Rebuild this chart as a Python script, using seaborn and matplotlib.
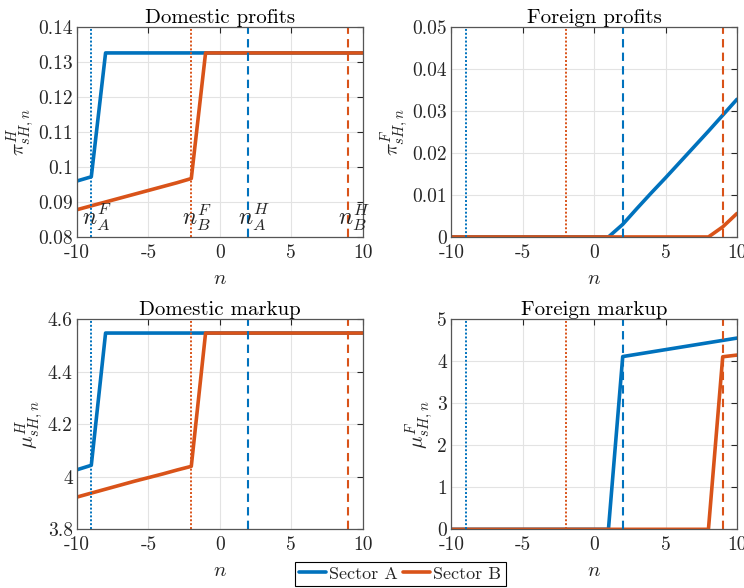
import matplotlib
matplotlib.use('Agg')
import matplotlib.pyplot as plt
import seaborn as sns
import pandas as pd
import numpy as np
from matplotlib.ticker import FuncFormatter
from matplotlib.lines import Line2D

# data
n = list(range(-10, 11))

dom_profit_A = [0.0960, 0.0972] + [0.1326] * 19
dom_profit_B = [0.0878, 0.0889, 0.0900, 0.0911, 0.0922, 0.0933, 0.0944, 0.0955, 0.0967] + [0.1326] * 12

for_profit_A = [0.0] * 12 + [0.0030, 0.0068, 0.0105, 0.0141, 0.0178, 0.0215, 0.0252, 0.0290, 0.0328]
for_profit_B = [0.0] * 19 + [0.0024, 0.0056]

dom_markup_A = [4.027, 4.044] + [4.548] * 19
dom_markup_B = [3.923, 3.938, 3.953, 3.968, 3.983, 3.997, 4.011, 4.026, 4.040] + [4.548] * 12

for_markup_A = [0.0] * 12 + [4.115, 4.170, 4.225, 4.280, 4.335, 4.390, 4.445, 4.500, 4.555]
for_markup_B = [0.0] * 19 + [4.11, 4.15]

sectors = ['Sector A', 'Sector B']
thresholds = {'nAF': -9, 'nBF': -2, 'nAH': 2, 'nBH': 9}

blue = '#0072BD'
orange = '#D95319'

sns.set_style('whitegrid')
plt.rcParams['font.family'] = 'serif'
plt.rcParams['font.serif'] = ['cmr10']
plt.rcParams['mathtext.fontset'] = 'cm'
plt.rcParams['axes.unicode_minus'] = False
plt.rcParams['axes.formatter.use_mathtext'] = False

fig = plt.figure(figsize=(7.44, 5.88), dpi=100)

w, h = 0.384, 0.357
pos = [[0.1035, 0.597], [0.6066, 0.597], [0.1035, 0.0998], [0.6066, 0.0998]]

panels = [
    ('Domestic profits', dom_profit_A, dom_profit_B, r'$\pi^{H}_{sH,n}$', (0.08, 0.14), np.arange(0.08, 0.1401, 0.01)),
    ('Foreign profits', for_profit_A, for_profit_B, r'$\pi^{F}_{sH,n}$', (0, 0.05), np.arange(0, 0.0501, 0.01)),
    ('Domestic markup', dom_markup_A, dom_markup_B, r'$\mu^{H}_{sH,n}$', (3.8, 4.6), np.arange(3.8, 4.601, 0.2)),
    ('Foreign markup', for_markup_A, for_markup_B, r'$\mu^{F}_{sH,n}$', (0, 5), np.arange(0, 5.01, 1)),
]

fmt = FuncFormatter(lambda v, p: ('%.10g' % round(v, 6)))
xfmt = FuncFormatter(lambda v, p: ('%d' % v))

axes = []
for i, (title, ya, yb, ylab, ylim, yt) in enumerate(panels):
    ax = fig.add_axes([pos[i][0], pos[i][1], w, h])
    axes.append(ax)
    df = pd.DataFrame({
        'n': n + n,
        'val': ya + yb,
        'sector': [sectors[0]] * len(n) + [sectors[1]] * len(n),
    })
    sns.lineplot(data=df, x='n', y='val', hue='sector', palette=[blue, orange],
                 lw=2.6, ax=ax, legend=False, zorder=3)

    # threshold lines
    ax.axvline(thresholds['nAF'], color=blue, lw=1.4, ls=(0, (1, 1)), zorder=4)
    ax.axvline(thresholds['nBF'], color=orange, lw=1.4, ls=(0, (1, 1)), zorder=4)
    ax.axvline(thresholds['nAH'], color=blue, lw=1.5, ls=(0, (4, 2.5)), zorder=4)
    ax.axvline(thresholds['nBH'], color=orange, lw=1.5, ls=(0, (4, 2.5)), zorder=4)

    ax.set_xlim(-10, 10)
    ax.set_ylim(*ylim)
    ax.set_xticks([-10, -5, 0, 5, 10])
    ax.xaxis.set_major_formatter(xfmt)
    ax.set_yticks(yt)
    ax.yaxis.set_major_formatter(fmt)
    ax.set_title(title, fontsize=15, color='black', pad=3)
    ax.set_xlabel(r'$n$', fontsize=15, color='#262626', labelpad=6)
    ax.set_ylabel(ylab, fontsize=15, color='#262626', labelpad=1)
    ax.grid(True, color='#e3e3e3', lw=0.8)
    ax.tick_params(direction='in', length=4, width=0.8, colors='#262626',
                   labelsize=14, top=True, right=True, pad=3)
    ax.tick_params(axis='x', pad=5)
    for s in ax.spines.values():
        s.set_color('#555555')
        s.set_linewidth(0.9)
        s.set_zorder(5)

# threshold labels in the first panel
ax0 = axes[0]
labels = [('nAF', r'$n^{F}_{A}$'), ('nBF', r'$n^{F}_{B}$'), ('nAH', r'$n^{H}_{A}$'), ('nBH', r'$n^{H}_{B}$')]
for key, txt in labels:
    ax0.text(thresholds[key] + 0.4, 0.0810, txt, ha='center', va='bottom',
             fontsize=17, color='#262626', zorder=6)

handles = [Line2D([0], [0], color=blue, lw=2.6), Line2D([0], [0], color=orange, lw=2.6)]
leg = fig.legend(handles, sectors, loc='lower center', bbox_to_anchor=(0.538, 0.0),
                 ncol=2, fontsize=13, frameon=True, fancybox=False,
                 handlelength=1.5, handletextpad=0.15, columnspacing=0.3,
                 borderpad=0.25, borderaxespad=0.1)
leg.get_frame().set_edgecolor('black')
leg.get_frame().set_linewidth(0.8)
leg.get_frame().set_alpha(1)

fig.savefig('out.png', dpi=100)
